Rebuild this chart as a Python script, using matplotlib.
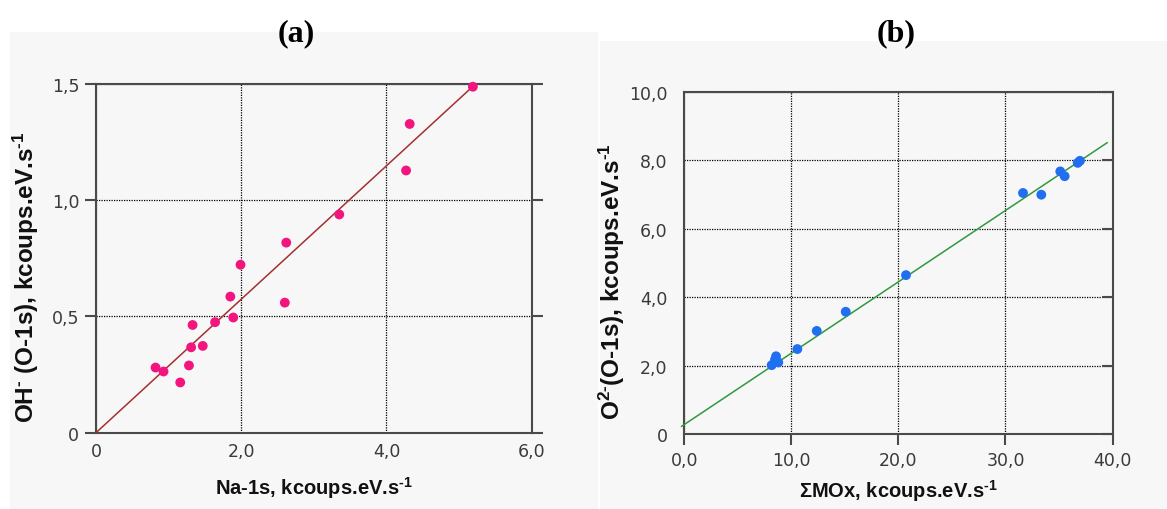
"""Two XPS correlation panels: OH- vs Na-1s (a) and O2- vs sum of MOx (b)."""

import matplotlib

matplotlib.use("Agg")
import matplotlib.pyplot as plt
import numpy as np
from matplotlib.patches import Rectangle
from matplotlib.ticker import FixedLocator, FixedFormatter

plt.rcParams["mathtext.fontset"] = "custom"
plt.rcParams["mathtext.rm"] = "Liberation Sans:bold"
plt.rcParams["mathtext.bf"] = "Liberation Sans:bold"
plt.rcParams["mathtext.default"] = "bf"

# panel (a): Na-1s vs OH- (O-1s)
na_1s = [5.19, 4.32, 4.27, 3.35, 2.62, 2.60, 1.99, 1.85, 1.89, 1.64,
         1.33, 1.47, 1.31, 1.28, 0.82, 0.93, 1.16]
oh_o1s = [1.487, 1.327, 1.127, 0.938, 0.817, 0.559, 0.722, 0.585, 0.495, 0.475,
          0.463, 0.373, 0.367, 0.289, 0.280, 0.263, 0.216]
fit_a_x = [0.0, 5.21]
fit_a_slope, fit_a_icpt = 0.2868, 0.0
xticks_a = [0, 2, 4, 6]
xlabels_a = ["0", "2,0", "4,0", "6,0"]
yticks_a = [0, 0.5, 1.0, 1.5]
ylabels_a = ["0", "0,5", "1,0", "1,5"]

# panel (b): sum MOx vs O2- (O-1s)
sum_mox = [8.16, 8.57, 8.47, 8.78, 10.56, 12.37, 15.08, 20.71,
           31.64, 33.35, 35.12, 35.53, 36.75, 36.96]
o2_o1s = [2.02, 2.28, 2.18, 2.10, 2.49, 3.02, 3.58, 4.65,
          7.05, 7.00, 7.68, 7.54, 7.93, 7.99]
fit_b_x = [-0.25, 39.5]
fit_b_slope, fit_b_icpt = 0.2084, 0.286
xticks_b = [0, 10, 20, 30, 40]
xlabels_b = ["0,0", "10,0", "20,0", "30,0", "40,0"]
yticks_b = [0, 2, 4, 6, 8, 10]
ylabels_b = ["0", "2,0", "4,0", "6,0", "8,0", "10,0"]

W, H = 1167, 510
SPINE = "#4a4a4a"
TICKTXT = "#3a3a3a"
BG = "#f7f7f7"
HY = "\u2010"  # short hyphen used in the superscripts

fig = plt.figure(figsize=(W / 100, H / 100), dpi=100)
fig.patches.append(Rectangle((10 / W, 0), 588 / W, 1 - 33 / H, transform=fig.transFigure,
                             facecolor=BG, edgecolor="none", zorder=-10))
fig.patches.append(Rectangle((600 / W, 0), 567 / W, 1 - 42 / H, transform=fig.transFigure,
                             facecolor=BG, edgecolor="none", zorder=-10))


def px_axes(left, top, right, bottom):
    return fig.add_axes([left / W, 1 - bottom / H, (right - left) / W, (bottom - top) / H])


def style(ax, xt, xl, yt, yl):
    ax.set_facecolor(BG)
    for s in ax.spines.values():
        s.set_color(SPINE)
        s.set_linewidth(1.5)
    ax.xaxis.set_major_locator(FixedLocator(xt))
    ax.xaxis.set_major_formatter(FixedFormatter(xl))
    ax.yaxis.set_major_locator(FixedLocator(yt))
    ax.yaxis.set_major_formatter(FixedFormatter(yl))
    ax.grid(True, color="black", linestyle=(0, (1, 1)), linewidth=0.9)
    ax.set_axisbelow(True)
    for lab in ax.get_xticklabels() + ax.get_yticklabels():
        lab.set_fontsize(12.5)
        lab.set_color(TICKTXT)


xlabel_font = dict(family="Liberation Sans", weight="bold", size=14.5, color="#111111")
ylabel_font = dict(family="Liberation Sans", weight="bold", size=17.5, color="#111111")
title_font = dict(family="Liberation Serif", weight="bold", size=23)

# (a)
ax = px_axes(96, 84.7, 531.7, 433.7)
ax.set_xlim(0, 6)
ax.set_ylim(0, 1.5)
style(ax, xticks_a, xlabels_a, yticks_a, ylabels_a)
ax.tick_params(axis="y", left=True, right=True, direction="out", length=8,
               width=1.5, color=SPINE, pad=4)
ax.tick_params(axis="x", length=0, pad=7)
xx = np.array(fit_a_x)
ax.plot(xx, fit_a_slope * xx + fit_a_icpt, color="#a3302f", lw=1.1, zorder=3, clip_on=False)
ax.scatter(na_1s, oh_o1s, s=50, color="#f2157e", edgecolors="none", zorder=4, clip_on=False)
ax.set_xlabel(f"Na-1s, kcoups.eV.s$^{{{HY}1}}$", labelpad=10, **xlabel_font)
ax.set_ylabel(f"OH$^{{{HY}}}$ (O-1s), kcoups.eV.s$^{{{HY}1}}$", **ylabel_font)
ax.yaxis.set_label_coords((41 - 96) / 435.7, (433.7 - 277) / 349)
fig.text(296 / W, 1 - 34 / H, "(a)", ha="center", va="center", **title_font)

# (b)
bx = px_axes(684.3, 93, 1112.5, 435.3)
bx.set_xlim(0, 40)
bx.set_ylim(0, 10)
style(bx, xticks_b, xlabels_b, yticks_b, ylabels_b)
bx.tick_params(axis="x", bottom=True, direction="out", length=8, width=1.5,
               color=SPINE, pad=4)
bx.tick_params(axis="y", left=False, right=True, labelleft=True, labelright=False,
               direction="in", length=8, width=1.5, color=SPINE, pad=12)
xx = np.array(fit_b_x)
bx.plot(xx, fit_b_slope * xx + fit_b_icpt, color="#2f9a3a", lw=1.1, zorder=3, clip_on=False)
bx.scatter(sum_mox, o2_o1s, s=50, color="#1f6ff0", edgecolors="none", zorder=4, clip_on=False)
bx.set_xlabel(f"\u03a3MOx, kcoups.eV.s$^{{{HY}1}}$", labelpad=6, **xlabel_font)
bx.set_ylabel(f"O$^{{2{HY}}}$(O-1s), kcoups.eV.s$^{{{HY}1}}$", **ylabel_font)
bx.yaxis.set_label_coords((627 - 684.3) / 428.2, (435.3 - 282) / 342.3)
fig.text(896 / W, 1 - 34 / H, "(b)", ha="center", va="center", **title_font)

fig.savefig("out.png", dpi=100)
